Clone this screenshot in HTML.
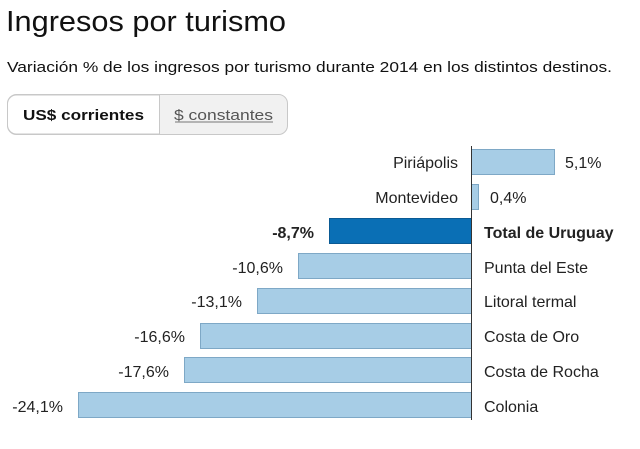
<!DOCTYPE html>
<html><head><meta charset="utf-8"><style>
body{margin:0;background:#fff;width:640px;height:444px;overflow:hidden;font-family:"Liberation Sans",sans-serif}
</style></head><body>
<svg width="640" height="444" xmlns="http://www.w3.org/2000/svg" font-family="Liberation Sans, sans-serif">
<text x="6" y="31" font-size="29" fill="#111" textLength="280" lengthAdjust="spacingAndGlyphs">Ingresos por turismo</text>
<text x="7" y="72" font-size="15" fill="#111" textLength="605" lengthAdjust="spacingAndGlyphs">Variación % de los ingresos por turismo durante 2014 en los distintos destinos.</text>
<rect x="7.5" y="94.5" width="280" height="40" rx="9" fill="#f1f1f1" stroke="#c8c8c8"/>
<path d="M159.5 95 V134 H16.5 A9 9 0 0 1 7.5 125 V104 A9 9 0 0 1 16.5 95 Z" fill="#fff" stroke="#c8c8c8"/>
<text x="23" y="120" font-size="15" font-weight="bold" fill="#111" textLength="121" lengthAdjust="spacingAndGlyphs">US$ corrientes</text>
<text x="174" y="120" font-size="15" fill="#555" textLength="99" lengthAdjust="spacingAndGlyphs">$ constantes</text>
<line x1="175" y1="122" x2="273" y2="122" stroke="#777" stroke-width="1"/>
<g stroke="#7ea8c6" stroke-width="1" fill="#a7cde6">
<rect x="471.5" y="149.5" width="83" height="25"/>
<rect x="471.5" y="184.5" width="7" height="25"/>
<rect x="329.5" y="218.5" width="142" height="25" fill="#0a6fb5" stroke="#0a5a94"/>
<rect x="298.5" y="253.5" width="173" height="25"/>
<rect x="257.5" y="288.5" width="214" height="25"/>
<rect x="200.5" y="323.5" width="271" height="25"/>
<rect x="184.5" y="357.5" width="287" height="25"/>
<rect x="78.5" y="392.5" width="393" height="25"/>
</g>
<line x1="471.5" y1="146" x2="471.5" y2="420" stroke="#333"/>
<g font-size="16" fill="#222">
<text x="458" y="168" text-anchor="end">Piriápolis</text>
<text x="565" y="168">5,1%</text>
<text x="458" y="203" text-anchor="end">Montevideo</text>
<text x="490" y="203">0,4%</text>
<text x="314" y="238" text-anchor="end" font-weight="bold">-8,7%</text>
<text x="484" y="238" font-weight="bold">Total de Uruguay</text>
<text x="283" y="273" text-anchor="end">-10,6%</text>
<text x="484" y="273">Punta del Este</text>
<text x="242" y="307" text-anchor="end">-13,1%</text>
<text x="484" y="307">Litoral termal</text>
<text x="185" y="342" text-anchor="end">-16,6%</text>
<text x="484" y="342">Costa de Oro</text>
<text x="169" y="377" text-anchor="end">-17,6%</text>
<text x="484" y="377">Costa de Rocha</text>
<text x="63" y="412" text-anchor="end">-24,1%</text>
<text x="484" y="412">Colonia</text>
</g>
</svg>
</body></html>
